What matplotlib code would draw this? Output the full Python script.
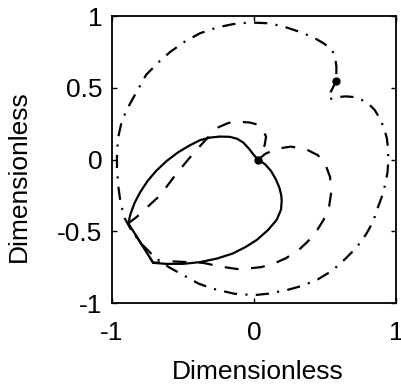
import numpy as np
import matplotlib
matplotlib.use("Agg")
import matplotlib.pyplot as plt

plt.rcParams['font.family'] = ['Liberation Sans', 'DejaVu Sans']
plt.rcParams['axes.unicode_minus'] = False
plt.rcParams['lines.scale_dashes'] = False

# solid loop, starts and ends at the marker
solid_x = [0.03, 0.08, 0.12, 0.155, 0.18, 0.192, 0.195, 0.19, 0.16, 0.1,
           0.02, -0.06, -0.15, -0.26, -0.38, -0.5, -0.62, -0.71, -0.885, -0.87,
           -0.84, -0.8, -0.75, -0.69, -0.615, -0.535, -0.45, -0.38, -0.31, -0.24,
           -0.17, -0.12, -0.075, -0.035, 0.0, 0.03]
solid_y = [0.0, -0.035, -0.08, -0.14, -0.2, -0.25, -0.29, -0.35, -0.42, -0.49,
           -0.56, -0.61, -0.655, -0.69, -0.715, -0.727, -0.727, -0.72, -0.445, -0.38,
           -0.3, -0.225, -0.15, -0.08, -0.01, 0.05, 0.1, 0.135, 0.153, 0.16,
           0.158, 0.145, 0.118, 0.075, 0.03, 0.0]

# dashed loop
dashed_x = [0.03, 0.08, 0.16, 0.26, 0.37, 0.45, 0.505, 0.535, 0.545, 0.53,
            0.49, 0.44, 0.38, 0.31, 0.22, 0.14, 0.05, -0.05, -0.12, -0.24,
            -0.36, -0.57, -0.71, -0.885, -0.826, -0.662, -0.544, -0.427, -0.31,
            -0.25, -0.18, -0.11, -0.03, 0.02, 0.06, 0.085, 0.075, 0.05, 0.03]
dashed_y = [0.0, 0.04, 0.075, 0.09, 0.07, 0.03, -0.04, -0.12, -0.22, -0.32,
            -0.42, -0.5, -0.57, -0.635, -0.69, -0.725, -0.75, -0.76, -0.763, -0.745,
            -0.72, -0.71, -0.72, -0.445, -0.40, -0.25, -0.096, 0.043, 0.17,
            0.225, 0.255, 0.263, 0.258, 0.245, 0.21, 0.16, 0.1, 0.04, 0.0]

# dash-dot loop, starts and ends at the upper marker
dashdot_x = [0.58, 0.55, 0.525, 0.53, 0.58, 0.65, 0.71, 0.76, 0.81, 0.85,
             0.89, 0.915, 0.935, 0.945, 0.945, 0.94, 0.925, 0.9, 0.87, 0.84,
             0.79, 0.72, 0.64, 0.55, 0.45, 0.34, 0.23, 0.1, 0.0, -0.14,
             -0.29, -0.39, -0.49, -0.6, -0.7, -0.79, -0.86, -0.91, -0.94, -0.955,
             -0.965, -0.965, -0.955, -0.935, -0.9, -0.85, -0.76, -0.67, -0.59, -0.49,
             -0.38, -0.26, -0.146, -0.03, 0.09, 0.2, 0.32, 0.42, 0.49, 0.545,
             0.57, 0.58, 0.58]
dashdot_y = [0.55, 0.49, 0.44, 0.42, 0.435, 0.44, 0.435, 0.415, 0.385, 0.345,
             0.28, 0.22, 0.15, 0.07, -0.02, -0.09, -0.17, -0.26, -0.34, -0.43,
             -0.52, -0.615, -0.695, -0.775, -0.835, -0.88, -0.91, -0.935, -0.945, -0.935,
             -0.9, -0.865, -0.81, -0.75, -0.68, -0.59, -0.5, -0.41, -0.3, -0.19,
             -0.06, 0.05, 0.16, 0.25, 0.34, 0.43, 0.59, 0.68, 0.75, 0.82,
             0.88, 0.92, 0.944, 0.955, 0.95, 0.93, 0.89, 0.85, 0.81, 0.77,
             0.72, 0.65, 0.55]

marker_x = [0.03, 0.58]
marker_y = [0.0, 0.55]

fig = plt.figure(figsize=(4.02, 3.88), dpi=100)
ax = fig.add_axes([0.2786, 0.219, 0.7065, 0.7397])

ax.plot(solid_x, solid_y, color='black', lw=1.6, solid_joinstyle='round')
ax.plot(dashed_x, dashed_y, color='black', lw=1.6, dashes=(10, 9))
ax.plot(dashdot_x, dashdot_y, color='black', lw=1.6, dashes=(9.5, 6, 1.5, 6))
ax.plot(marker_x, marker_y, 'o', color='black', ms=5)

ax.set_xlim(-1, 1)
ax.set_ylim(-1, 1)
ax.set_xticks([-1, 0, 1])
ax.set_yticks([-1, -0.5, 0, 0.5, 1])
ax.set_xticklabels(['-1', '0', '1'])
ax.set_yticklabels(['-1', '-0.5', '0', '0.5', '1'])
ax.tick_params(direction='in', length=3.5, width=1, top=True, right=True,
               labelsize=19, pad=7)
ax.tick_params(axis='x', pad=13)
for s in ax.spines.values():
    s.set_linewidth(1.3)

ax.set_xlabel('Dimensionless', fontsize=19)
ax.set_ylabel('Dimensionless', fontsize=19)
ax.xaxis.set_label_coords(0.514, -0.2)
ax.yaxis.set_label_coords(-0.285, 0.4425)

fig.savefig('out.png', dpi=100)
